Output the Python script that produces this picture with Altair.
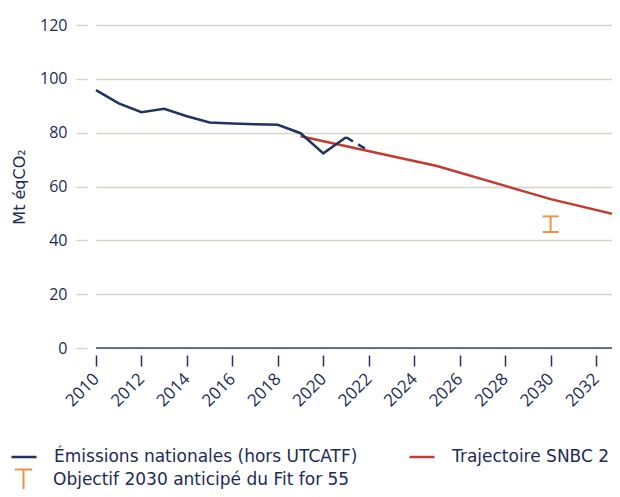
import altair as alt
import pandas as pd

# ---- data ----
hist_years = [2010, 2011, 2012, 2013, 2014, 2015, 2016, 2017, 2018, 2019, 2020, 2021]
hist_values = [95.8, 90.9, 87.6, 88.9, 86.1, 83.8, 83.4, 83.1, 82.9, 79.8, 72.3, 78.3]
proj_years = [2021, 2022]
proj_values = [78.3, 73.3]
snbc_years = [2019, 2025, 2030, 2033]
snbc_values = [78.7, 67.6, 55.3, 49.3]
obj_year = 2030
obj_low = 43.1
obj_high = 48.9
x_ticks = [2010, 2012, 2014, 2016, 2018, 2020, 2022, 2024, 2026, 2028, 2030, 2032]
y_ticks = [0, 20, 40, 60, 80, 100, 120]

S_EMI = "Émissions nationales (hors UTCATF)"
S_SNBC = "Trajectoire SNBC 2"
S_OBJ = "Objectif 2030 anticipé du Fit for 55"
line_series = [S_EMI, S_SNBC]

NAVY = "#1f3461"
TEXT = "#1c2b57"
RED = "#c53a2f"
ORANGE = "#e8944a"
GRID = "#d6d3c6"
FONT = "Open Sans"
LFONT = "DejaVu Sans"

hist = pd.DataFrame({"year": hist_years, "value": hist_values, "series": S_EMI})
proj = pd.DataFrame({"year": proj_years, "value": proj_values, "series": S_EMI})
snbc = pd.DataFrame({"year": snbc_years, "value": snbc_values, "series": S_SNBC})
obj = pd.DataFrame({"year": [obj_year], "low": [obj_low], "high": [obj_high], "series": S_OBJ})
caps = pd.DataFrame({"year": [obj_year, obj_year], "value": [obj_low, obj_high], "series": S_OBJ})
zero = pd.DataFrame({"value": [0]})

W, H = 516, 323

x_scale = alt.Scale(domain=[2010, 2032.7], nice=False, zero=False)
y_scale = alt.Scale(domain=[0, 120], nice=False)

x_axis = alt.Axis(values=x_ticks, format="d", labelAngle=-45, labelAlign="right",
                  labelBaseline="middle", labelFontSize=17, labelColor=TEXT, labelFont=FONT,
                  labelPadding=10, tickSize=11, tickColor=NAVY, tickWidth=1.5, offset=7,
                  domain=False, grid=False, title=None)
y_axis = alt.Axis(values=y_ticks, labelFontSize=16, labelColor=TEXT, labelFont=FONT,
                  labelPadding=9, tickSize=11, tickColor=GRID, tickWidth=1.5, offset=9,
                  domain=False, grid=True, gridColor=GRID, gridWidth=1.5,
                  title="Mt éqCO₂", titleFontSize=16, titleFont=LFONT, titleColor=TEXT,
                  titleFontWeight="normal", titlePadding=12)

common_legend = dict(title=None, labelFont=LFONT, labelFontSize=17, labelColor=TEXT,
                     labelLimit=500, labelOffset=16, padding=0, orient="none", legendX=-86)

color = alt.Color("series:N", scale=alt.Scale(domain=line_series, range=[NAVY, RED]),
                  sort=line_series,
                  legend=alt.Legend(direction="horizontal", columns=2, columnPadding=46,
                                    symbolType="stroke", symbolSize=625,
                                    symbolStrokeWidth=2.5, legendY=418, **common_legend))

shape = alt.Shape("series:N",
                  scale=alt.Scale(domain=[S_OBJ], range=["M-0.7,-0.8L0.7,-0.8M0,-0.8L0,0.8"]),
                  legend=alt.Legend(symbolSize=625, symbolStrokeWidth=2,
                                    symbolStrokeColor=ORANGE, symbolFillColor="transparent",
                                    symbolOpacity=1, legendY=441, **common_legend))

X = alt.X("year:Q", scale=x_scale, axis=x_axis)


def Yq(field):
    return alt.Y(field, type="quantitative", scale=y_scale, axis=y_axis)


zero_rule = alt.Chart(zero).mark_rule(color="#3b4a72", strokeWidth=1.5).encode(
    y=Yq("value"), x=alt.value(0), x2=alt.value(W))

line_hist = alt.Chart(hist).mark_line(strokeWidth=2.5).encode(x=X, y=Yq("value"), color=color)
line_proj = alt.Chart(proj).mark_line(strokeWidth=2.5, strokeDash=[8, 6]).encode(
    x=X, y=Yq("value"), color=color)
line_snbc = alt.Chart(snbc).mark_line(strokeWidth=2.5, clip=True).encode(
    x=X, y=Yq("value"), color=color)
bar = alt.Chart(obj).mark_rule(strokeWidth=2, color=ORANGE).encode(
    x=X, y=Yq("low"), y2="high:Q")
cap = alt.Chart(caps).mark_point(shape="M-1,0L1,0", size=256, filled=False, strokeWidth=2,
                                 color=ORANGE, opacity=1).encode(x=X, y=Yq("value"))
obj_key = alt.Chart(obj).mark_point(size=0, filled=False, color=ORANGE).encode(
    x=X, y=Yq("high"), shape=shape)

chart = alt.layer(line_snbc, line_hist, line_proj, zero_rule, bar, cap, obj_key).properties(
    width=W, height=H,
    autosize=alt.AutoSizeParams(type="none"),
    padding={"left": 88, "top": 17, "right": 0, "bottom": 141},
).configure(font=FONT).configure_view(
    stroke="transparent", strokeWidth=0
).configure_axis(domain=False).configure_axisX(grid=False)

chart.save("out.html", embed_options={"renderer": "svg", "actions": False})
